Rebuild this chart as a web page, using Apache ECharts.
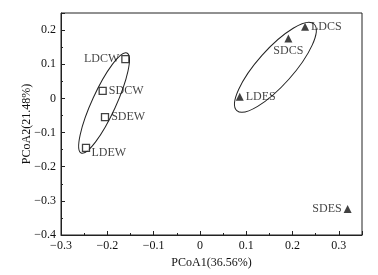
<!DOCTYPE html>
<html><head><meta charset="utf-8">
<script src="https://cdn.jsdelivr.net/npm/echarts@6/dist/echarts.min.js"></script>
<style>html,body{margin:0;padding:0;background:#fff}#c{width:378px;height:275px}</style>
</head><body><div id="c"></div>
<script>
// Data
var wNames = ['LDCW', 'SDCW', 'SDEW', 'LDEW'];
var wX = [-0.161, -0.210, -0.205, -0.246];
var wY = [0.115, 0.022, -0.055, -0.145];
var sNames = ['LDCS', 'SDCS', 'LDES', 'SDES'];
var sX = [0.227, 0.191, 0.086, 0.319];
var sY = [0.210, 0.175, 0.005, -0.324];
var xName = 'PCoA1(36.56%)';
var yName = 'PCoA2(21.48%)';
// ellipse centers (data units)
var ellCenters = [[-0.207, -0.0135], [0.163, 0.091]];

var wLabelPos = ['left', 'right', 'right', ['115%', '40%']];
var sLabelPos = ['right', 'bottom', 'right', 'left'];
var ellShape = [{rx: 55, ry: 12, rot: 65.4}, {rx: 58, ry: 18, rot: 48.3}];

var font = 'Liberation Serif';
function fmt(v) {
  var r = Math.round(v * 100) / 100;
  if (Math.abs(Math.round(r * 10) - r * 10) > 1e-6) return '';
  var s = (Math.round(r * 10) / 10).toString();
  return s.replace('-', '\u2212');
}
var wData = wX.map(function (x, i) {
  return {value: [x, wY[i]], name: wNames[i], label: {position: wLabelPos[i]}};
});
var sData = sX.map(function (x, i) {
  return {value: [x, sY[i]], name: sNames[i], label: {position: sLabelPos[i]}};
});
var lbl = {show: true, formatter: '{b}', color: '#111', fontFamily: font, fontSize: 12, distance: 2};

var chart = echarts.init(document.getElementById('c'), null, {renderer: 'canvas'});
chart.setOption({
  animation: false,
  grid: {left: 61, right: 16, top: 13, bottom: 40, show: true, borderColor: '#222', borderWidth: 1},
  xAxis: [{
    type: 'value', min: -0.3, max: 0.35, interval: 0.1,
    name: xName, nameLocation: 'middle', nameGap: 22,
    nameTextStyle: {fontFamily: font, fontSize: 12, color: '#111'},
    axisLine: {onZero: false, lineStyle: {color: '#222', width: 1}},
    axisTick: {inside: true, length: 4, lineStyle: {color: '#222'}},
    axisLabel: {formatter: fmt, fontFamily: font, fontSize: 12, color: '#111', margin: 5},
    splitLine: {show: false}
  }, {
    type: 'value', min: -0.3, max: 0.35, interval: 0.05, position: 'bottom',
    axisLine: {show: false, onZero: false},
    axisTick: {inside: true, length: 2, lineStyle: {color: '#222'}},
    axisLabel: {show: false}, splitLine: {show: false}
  }],
  yAxis: [{
    type: 'value', min: -0.4, max: 0.25, interval: 0.1,
    name: yName, nameLocation: 'middle', nameGap: 28, nameMoveOverlap: false,
    nameTextStyle: {fontFamily: font, fontSize: 12, color: '#111', padding: [0, 0, 0, 0]},
    axisLine: {onZero: false, lineStyle: {color: '#222', width: 1}},
    axisTick: {inside: true, length: 4, lineStyle: {color: '#222'}},
    axisLabel: {formatter: fmt, fontFamily: font, fontSize: 12, color: '#111', margin: 5},
    splitLine: {show: false}
  }, {
    type: 'value', min: -0.4, max: 0.25, interval: 0.05, position: 'left',
    axisLine: {show: false, onZero: false},
    axisTick: {inside: true, length: 2, lineStyle: {color: '#222'}},
    axisLabel: {show: false}, splitLine: {show: false}
  }],
  series: [{
    type: 'custom',
    renderItem: function (params, api) {
      var i = params.dataIndex;
      var p = api.coord([api.value(0), api.value(1)]);
      var e = ellShape[i];
      return {
        type: 'ellipse', x: p[0], y: p[1], rotation: e.rot * Math.PI / 180,
        shape: {cx: 0, cy: 0, rx: e.rx, ry: e.ry},
        style: {fill: 'none', stroke: '#222', lineWidth: 1}
      };
    },
    data: ellCenters, silent: true, z: 1
  }, {
    type: 'scatter', symbol: 'rect', symbolSize: 7,
    itemStyle: {color: '#fff', borderColor: '#111', borderWidth: 1.3},
    label: lbl, data: wData, z: 3
  }, {
    type: 'scatter', symbol: 'triangle', symbolSize: 8,
    itemStyle: {color: '#111'},
    label: lbl, data: sData, z: 3
  }]
});
</script></body></html>
